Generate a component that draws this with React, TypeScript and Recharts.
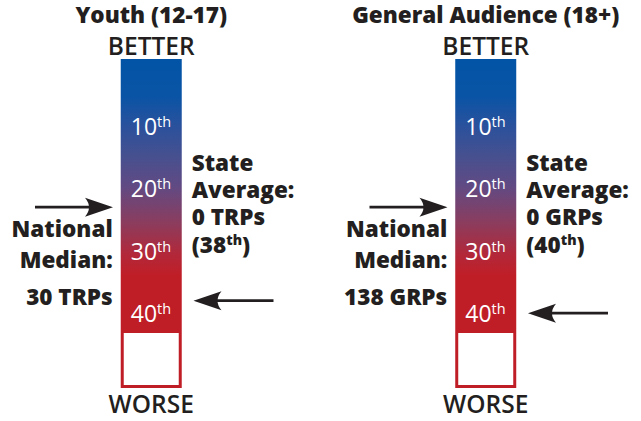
import React from "react";
import { ComposedChart, Bar, Scatter, XAxis, YAxis } from "recharts";

// ---- data ----
const groups = ["Youth (12-17)", "General Audience (18+)"];
const groupIndex = [0, 1];
const rankScaleStart = -0.75;
const rankScaleEnd = 42.7;
const rankBlankEnd = 52;
const percentileTicks = [10, 20, 30, 40];
const nationalMedianRanks = [23, 23];
const nationalMedianValues = ["30 TRPs", "138 GRPs"];
const stateRanks = [38, 40];
const stateValues = ["0 TRPs", "0 GRPs"];

// ---- layout / style ----
const W = 641;
const H = 421;
const BAR = 61;
const FONT = "'Open Sans', sans-serif";
const INK = "#231f20";
const RED = "#c01e27";
const X_DOMAIN: [number, number] = [-0.4514, 1.4649];

const barData = groupIndex.map((i) => ({
  pos: i,
  name: groups[i],
  scale: [rankScaleStart, rankScaleEnd],
  blank: [rankScaleEnd, rankBlankEnd],
}));
const tickData = groupIndex.flatMap((i) =>
  percentileTicks.map((t) => ({ pos: i, rank: t }))
);
const medianData = groupIndex.map((i) => ({ pos: i, rank: nationalMedianRanks[i] }));
const stateData = groupIndex.map((i) => ({ pos: i, rank: stateRanks[i] }));

const boldText = {
  fontFamily: FONT,
  fontWeight: 800,
  fontSize: 22.5,
  fill: INK,
} as const;

const ScaleShape = (p: any) => {
  const { x, y, width, height } = p;
  const top = Math.min(y, y + height);
  const h = Math.abs(height);
  const cx = x + width / 2;
  const i = p.payload?.pos ?? p.index ?? 0;
  const lx = x - 8;
  const rx = x + width + 10;
  return (
    <g>
      <rect x={x} y={top} width={width} height={h} fill="url(#rankGrad)" />
      <text x={cx} y={top - 36} textAnchor="middle" {...boldText} fontSize={22.5}>
        {groups[i]}
      </text>
      <text x={cx} y={top - 4} textAnchor="middle" fontFamily={FONT} fontWeight={600} fontSize={24.5} fill={INK}>
        BETTER
      </text>
      <text textAnchor="end" {...boldText}>
        <tspan x={lx} y={top + 178}>National</tspan>
        <tspan x={lx} y={top + 209}>Median:</tspan>
        <tspan x={lx} y={top + 246}>{nationalMedianValues[i]}</tspan>
      </text>
      <text {...boldText}>
        <tspan x={rx} y={top + 112}>State</tspan>
        <tspan x={rx} y={top + 139}>Average:</tspan>
        <tspan x={rx} y={top + 166}>{stateValues[i]}</tspan>
        <tspan x={rx} y={top + 194}>({stateRanks[i]}</tspan>
        <tspan fontSize={14} dy={-8}>th</tspan>
        <tspan dy={8}>)</tspan>
      </text>
    </g>
  );
};

const BlankShape = (p: any) => {
  const { x, y, width, height } = p;
  const top = Math.min(y, y + height);
  const h = Math.abs(height);
  const cx = x + width / 2;
  return (
    <g>
      <rect x={x + 1.5} y={top + 1.5} width={width - 3} height={h - 3} fill="#fff" stroke={RED} strokeWidth={3} />
      <text x={cx} y={top + h + 25} textAnchor="middle" fontFamily={FONT} fontWeight={600} fontSize={24.5} fill={INK}>
        WORSE
      </text>
    </g>
  );
};

const TickShape = (p: any) => {
  const { cx, cy, payload } = p;
  return (
    <text x={cx} y={cy + 9} textAnchor="middle" fontFamily={FONT} fontSize={23} fill="#fff">
      {payload.rank}
      <tspan fontSize={14.5} dy={-8}>th</tspan>
    </text>
  );
};

const arrowPath = (tx: number, ty: number, d: number, tail: number) => {
  const head = `M${tx},${ty} L${tx - d * 28},${ty - 9.5} Q${tx - d * 20},${ty} ${tx - d * 28},${ty + 9.5} Z`;
  return (
    <g>
      <line x1={tx - d * 20} y1={ty} x2={tail} y2={ty} stroke={INK} strokeWidth={2.8} />
      <path d={head} fill={INK} />
    </g>
  );
};

const MedianArrow = (p: any) => {
  const { cx, cy } = p;
  const tip = cx - BAR / 2 - 7.5;
  return arrowPath(tip, cy, 1, tip - 78);
};

const StateArrow = (p: any) => {
  const { cx, cy } = p;
  const tip = cx + BAR / 2 + 12;
  return arrowPath(tip, cy, -1, tip + 80);
};

export default function App() {
  return (
    <div style={{ position: "absolute", left: 0, top: 0, width: W, height: H, background: "#fff" }}>
      <ComposedChart
        width={W}
        height={H}
        data={barData}
        margin={{ top: 59, right: 0, bottom: 33, left: 0 }}
        barGap={-BAR}
      >
        <defs>
          <linearGradient id="rankGrad" x1="0" y1="0" x2="0" y2="1">
            <stop offset="0%" stopColor="#0254a6" />
            <stop offset="14%" stopColor="#0a54a5" />
            <stop offset="25%" stopColor="#2b519c" />
            <stop offset="36%" stopColor="#47508f" />
            <stop offset="47%" stopColor="#614a83" />
            <stop offset="60%" stopColor="#8a3d5f" />
            <stop offset="72%" stopColor="#b2283a" />
            <stop offset="80%" stopColor="#c01e27" />
            <stop offset="100%" stopColor="#c01e27" />
          </linearGradient>
        </defs>
        <XAxis type="number" dataKey="pos" domain={X_DOMAIN} hide />
        <YAxis type="number" dataKey="rank" reversed domain={[rankScaleStart, rankBlankEnd]} hide />
        <Bar dataKey="scale" barSize={BAR} shape={ScaleShape} isAnimationActive={false} />
        <Bar dataKey="blank" barSize={BAR} shape={BlankShape} isAnimationActive={false} />
        <Scatter data={tickData} dataKey="rank" shape={TickShape} isAnimationActive={false} />
        <Scatter data={medianData} dataKey="rank" shape={MedianArrow} isAnimationActive={false} />
        <Scatter data={stateData} dataKey="rank" shape={StateArrow} isAnimationActive={false} />
      </ComposedChart>
    </div>
  );
}
